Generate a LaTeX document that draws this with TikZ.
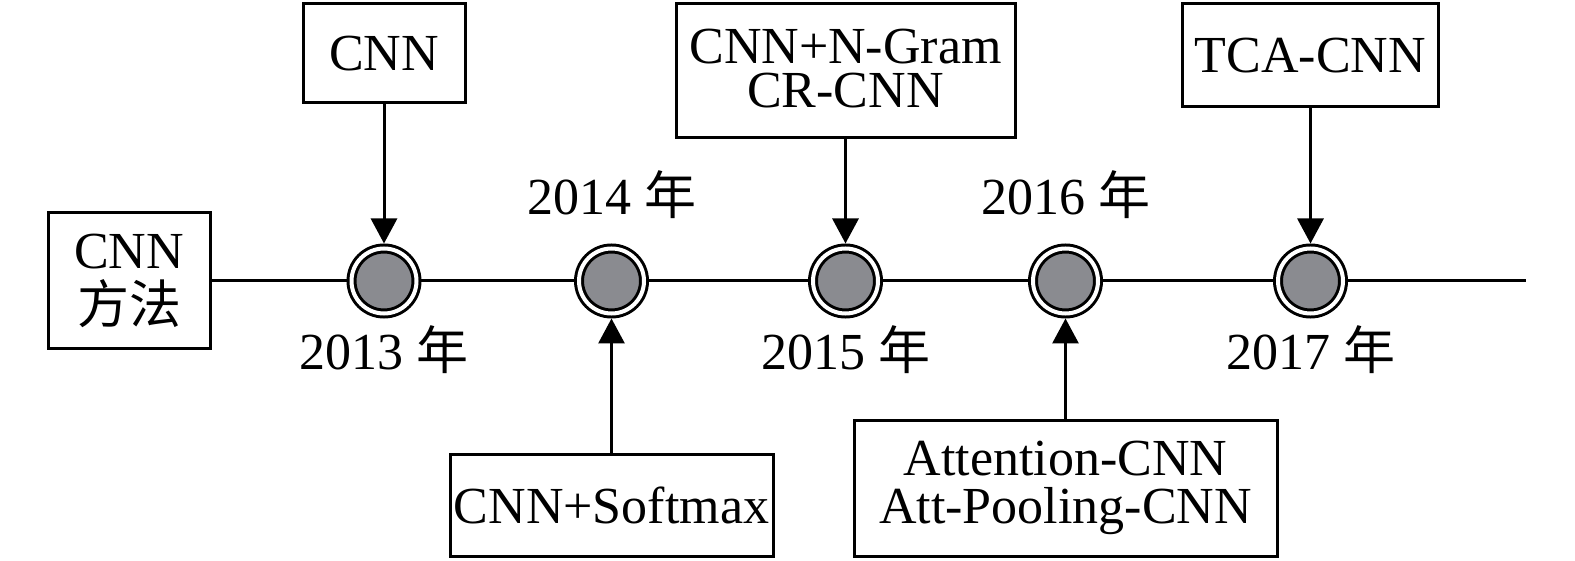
\documentclass[tikz,border=0pt]{standalone}
\usepackage{fontspec}
\setmainfont{Liberation Serif}
\newfontfamily\cjk{Noto Sans CJK SC}
\usetikzlibrary{arrows.meta,positioning}
\definecolor{dotgray}{RGB}{138,139,144}
\tikzset
{
    modelbox/.style = {rectangle, draw=black, line width=1.5pt, align=center, inner sep=0pt, font={\fontsize{26}{20}\selectfont\lineskiplimit=-30pt}},
    yeardot/.style = {circle, draw=black, line width=1.5pt, double=white, double distance=2pt, fill=dotgray, minimum size=32.5pt, inner sep=0pt, outer sep=2.5pt},
    yearlabel/.style = {anchor=base, inner sep=0pt, font=\fontsize{26}{30}\selectfont},
    pointer/.style = {line width=1.5pt, -{Triangle[length=12.5pt,width=13pt]}}
}
\begin{document}
\begin{tikzpicture}[x=0.5pt, y=-0.5pt]
\useasboundingbox (0,0) rectangle (1575,561);
\node[modelbox, minimum width=81pt, minimum height=68pt] (method) at (129,281) {CNN\\[7.5pt]{\cjk 方法}};
\coordinate (lineend) at (1526,281);
\draw[line width=1.5pt] (method.east) -- (lineend);
% year points
\node[yeardot] (d13) at (384,281) {};
\node[yeardot] (d14) at (611.5,281) {};
\node[yeardot] (d15) at (845.5,281) {};
\node[yeardot] (d16) at (1065.5,281) {};
\node[yeardot] (d17) at (1310.5,281) {};
\node[yearlabel] (y13) at (384,370) {2013 {\cjk 年}};
\node[yearlabel] (y14) at (611.5,215) {2014 {\cjk 年}};
\node[yearlabel] (y15) at (845.5,370) {2015 {\cjk 年}};
\node[yearlabel] (y16) at (1065.5,215) {2016 {\cjk 年}};
\node[yearlabel] (y17) at (1310.5,370) {2017 {\cjk 年}};
% models
\node[modelbox, minimum width=81pt, minimum height=49.5pt] (m13) at (384,53.5) {CNN};
\node[modelbox, minimum width=161.5pt, minimum height=51pt] (m14) at (611.5,505) {CNN+Softmax};
\node[modelbox, minimum width=169.5pt, minimum height=67pt, text depth=3pt] (m15) at (845.5,71) {CNN+N-Gram\\[2pt]CR-CNN};
\node[modelbox, minimum width=211.5pt, minimum height=68pt] (m16) at (1065.5,488) {Attention-CNN\\[4pt]Att-Pooling-CNN};
\node[modelbox, minimum width=128pt, minimum height=51.5pt] (m17) at (1310.5,55.5) {TCA-CNN};
\draw[pointer] (m13.south) -- (d13.north);
\draw[pointer] (m14.north) -- (d14.south);
\draw[pointer] (m15.south) -- (d15.north);
\draw[pointer] (m16.north) -- (d16.south);
\draw[pointer] (m17.south) -- (d17.north);
\end{tikzpicture}
\end{document}
